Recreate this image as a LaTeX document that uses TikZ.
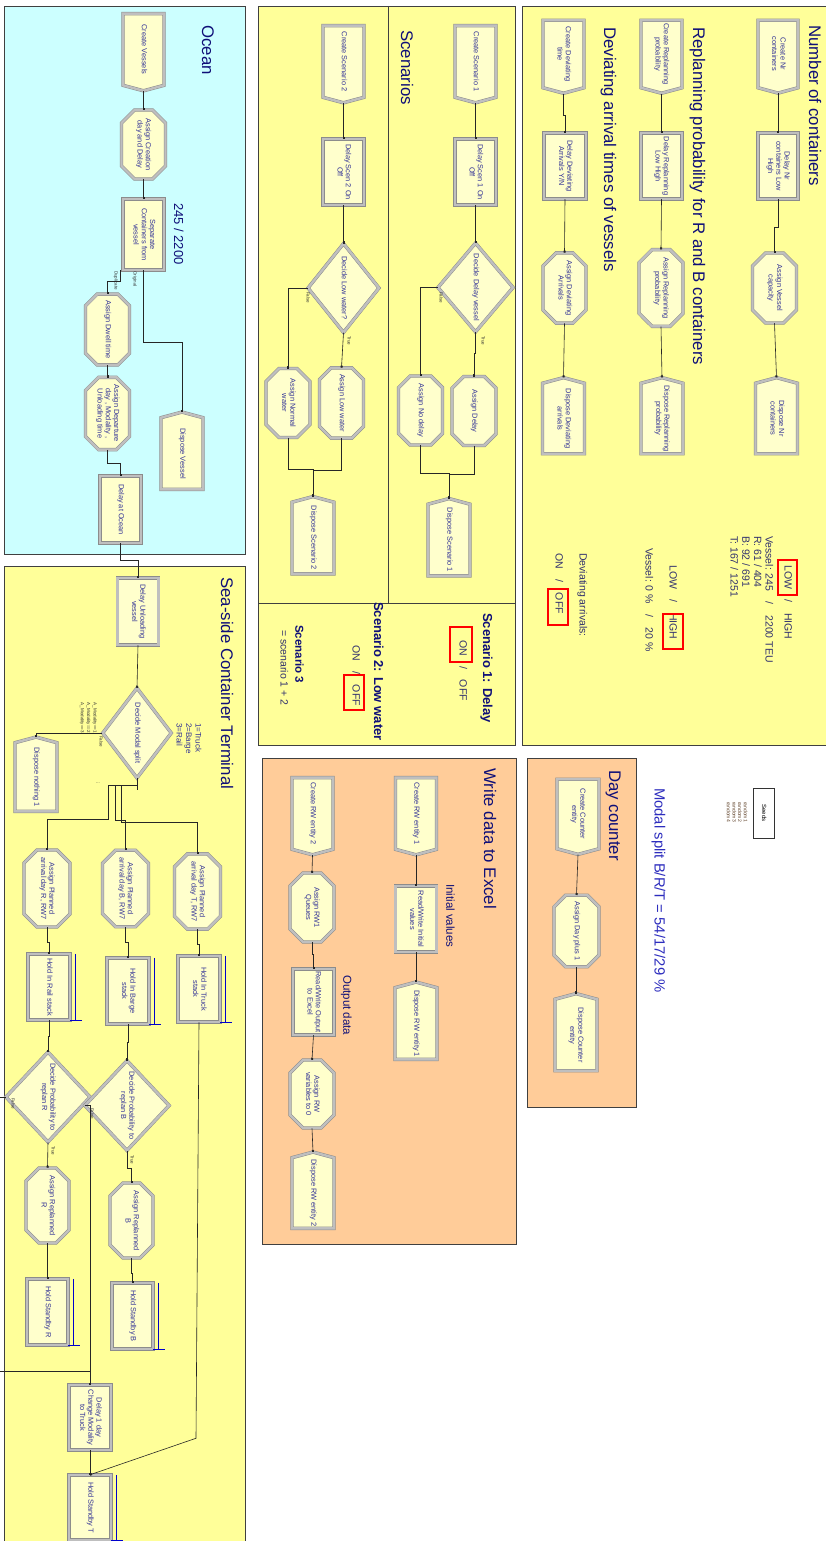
\documentclass[tikz,border=0pt]{standalone}
\usepackage{fontspec}
\setmainfont{Liberation Sans}
\usepackage{graphicx}
\usepackage{xcolor}
\usetikzlibrary{shapes.geometric,shapes.symbols,shapes.misc,arrows.meta}
\definecolor{oceanCyan}{RGB}{204,255,255}
\definecolor{panelYellow}{RGB}{255,255,153}
\definecolor{panelOrange}{RGB}{255,204,153}
\definecolor{moduleFill}{RGB}{255,255,204}
\definecolor{moduleText}{RGB}{50,50,150}
\definecolor{titleBlue}{RGB}{15,15,120}
\definecolor{noteBlue}{RGB}{50,50,110}
\definecolor{splitBlue}{RGB}{45,45,190}
\definecolor{seedBrown}{RGB}{95,65,40}
\newcommand{\modulefont}{\fontsize{7.4}{8.3}\selectfont}
\newcommand{\panelfont}{\fontsize{16.8}{19}\selectfont}
\newcommand{\notefont}{\fontsize{10.5}{11.7}\selectfont}
\newcommand{\scenfont}{\fontsize{13}{15}\selectfont\bfseries}
\newcommand{\exitfont}{\fontsize{4.5}{6.3}\selectfont}
\newcommand{\vlabel}[2][c]{\rotatebox{-90}{\begin{tabular}{@{}#1@{}}#2\end{tabular}}}

\begin{document}
\begin{tikzpicture}[x=1pt, y=-1pt,
	    module/.style={draw=gray!90, line width=0.5pt, double=gray!50, double distance=2.4pt, fill=moduleFill, text=moduleText, font=\modulefont, inner sep=1pt},
	    createmod/.style={module, signal, signal to=south, signal pointer angle=150, minimum width=41pt, minimum height=73pt},
	    disposemod/.style={module, signal, signal to=north, signal pointer angle=150, minimum width=42pt, minimum height=73pt},
	    assignmod/.style={module, chamfered rectangle, chamfered rectangle sep=6.5pt, minimum width=44pt, minimum height=69pt},
	    delaymod/.style={module, rectangle, minimum width=41pt, minimum height=66pt},
	    decidemod/.style={module, diamond, inner sep=0pt, minimum width=64pt, minimum height=89pt},
	    paneltitle/.style={text=titleBlue, font=\panelfont, inner sep=0pt, anchor=north},
	    infotext/.style={text=noteBlue, font=\notefont, inner sep=0pt, anchor=north},
	    exitlabel/.style={text=black!80, font=\exitfont, inner sep=0pt, anchor=north},
	    redmark/.style={draw=red, line width=2.2pt, inner sep=0pt},
	    queue/.style={draw=blue!80!black, line width=0.7pt},
	    joint/.style={draw=black!85, line width=0.6pt},
	    line/.style={draw=black!85, line width=0.6pt, -{Square[length=2pt,width=2pt]}}]

	\useasboundingbox (0,0) rectangle (825,1541);
	\fill [white] (0,0) rectangle (825,1541);
	\draw [fill=oceanCyan, draw=black!75, line width=0.8pt] (4,6) rectangle (245,554);
	\draw [fill=panelYellow, draw=black!75, line width=0.8pt] (4,566) rectangle (245,1560);
	\draw [fill=panelYellow, draw=black!75, line width=0.8pt] (258,6) rectangle (515,745);
	\draw [draw=black!75, line width=0.8pt] (388,6) -- (388,603) (258,603) -- (515,603);
	\draw [fill=panelYellow, draw=black!75, line width=0.8pt] (522,6) rectangle (830,745);
	\draw [fill=panelOrange, draw=black!75, line width=0.8pt] (262,758) rectangle (516,1244);
	\draw [fill=panelOrange, draw=black!75, line width=0.8pt] (527,758) rectangle (636,1107);

	\node [paneltitle] (tocean) at (206,25) {\vlabel{Ocean}};
	\node [paneltitle] (tsea) at (225,577) {\vlabel{Sea-side Container Terminal}};
	\node [paneltitle] (tscen) at (405,30) {\vlabel{Scenarios}};
	\node [paneltitle] (tnr) at (813,25) {\vlabel{Number of containers}};
	\node [paneltitle] (trepl) at (697,27) {\vlabel{Replanning probability for R and B containers}};
	\node [paneltitle] (tdev) at (608,27) {\vlabel{Deviating arrival times of vessels}};
	\node [paneltitle] (texcel) at (488,768) {\vlabel{Write data to Excel}};
	\node [paneltitle] (tday) at (613,770) {\vlabel{Day counter}};

	\node [createmod] (crves) at (143.5,49.5) {\vlabel{Create Vessels}};
	\node [assignmod] (asgcre) at (143.5,144.5) {\vlabel{Assign Creation\\day and Delay}};
	\node [delaymod, minimum height=71pt] (sep) at (143.5,234.5) {\vlabel{Separate\\Containers from\\vessel}};
	\node [assignmod] (asgdw) at (107.5,329.5) {\vlabel{Assign Dwell time}};
	\node [assignmod] (asgdep) at (107.5,413.5) {\vlabel{Assign Departure\\day , Modality ,\\Unloading time}};
	\node [delaymod, minimum height=67pt] (dlyoc) at (120.5,509.5) {\vlabel{Delay at Ocean}};
	\node [disposemod] (dspves) at (182,453.5) {\vlabel{Dispose Vessel}};
	\node [infotext, text=titleBlue, font=\fontsize{13}{15}\selectfont] (vesnum) at (177,203) {\vlabel{245 / 2200}};
	\node [exitlabel] (lbldup) at (116,271) {\vlabel{Duplicate}};
	\node [exitlabel] (lblorg) at (135,271) {\vlabel{Original}};

	\path [line] (crves.south) -- (asgcre.north);
	\path [line] (asgcre.south) -- (sep.north);
	\path [line] (sep.south) -- ++(0,72) -| (dspves.north);
	\path [line] ([xshift=-2pt]sep.south west) -- ++(0,11) -| (asgdw.north);
	\path [line] (asgdw.south) -- (asgdep.north);
	\path [line] (asgdep.south) -- ++(0,13) -| (dlyoc.north);

	\node [delaymod, minimum height=67pt] (dlyunl) at (138,611.5) {\vlabel{Delay Unloading\\vessel}};
	\node [decidemod, minimum width=63pt, minimum height=90pt] (modal) at (137,733) {\vlabel{Decide Modal split}};
	\node [infotext, text=moduleText, font=\fontsize{8}{9.5}\selectfont] (modkey) at (188,723) {\vlabel[l]{1=Truck\\2=Barge\\3=Rail}};
	\node [disposemod, minimum height=70pt] (dspn1) at (36,777) {\vlabel{Dispose nothing 1}};
	\node [exitlabel, anchor=south] (condlbl) at (88.5,733) {\vlabel[r]{A\_Modality==1\\A\_Modality==2\\A\_Modality==3}};
	\node [exitlabel] (modfalse) at (101,736) {\vlabel{False}};
	\node [exitlabel, anchor=center] (moredots) at (98,783) {...};
	\node [assignmod, minimum width=46pt, minimum height=71pt] (asgR) at (47,888.5) {\vlabel{Assign Planned\\arrival day R, RW7}};
	\node [assignmod, minimum width=46pt, minimum height=71pt] (asgB) at (125.5,888.5) {\vlabel{Assign Planned\\arrival day B, RW7}};
	\node [assignmod, minimum width=46pt, minimum height=69pt] (asgT) at (197.5,891.5) {\vlabel{Assign Planned\\arrival day T, RW7}};
	\node [delaymod, minimum width=42pt] (holdR) at (49,987) {\vlabel{Hold In Rail stack}};
	\node [delaymod, minimum width=42pt] (holdB) at (128,991) {\vlabel{Hold In Barge\\stack}};
	\node [delaymod, minimum width=42pt] (holdT) at (199,989) {\vlabel{Hold In Truck\\stack}};
	\node [decidemod, minimum width=62pt, minimum height=90pt] (decR) at (48,1097) {\vlabel{Decide Probability to\\replan R}};
	\node [decidemod, minimum width=62pt, minimum height=90pt] (decB) at (127,1105.5) {\vlabel{Decide Probability to\\replan B}};
	\node [exitlabel] (rfalse) at (13,1098) {\vlabel{False}};
	\node [exitlabel] (rtrue) at (53,1146) {\vlabel{True}};
	\node [exitlabel] (bfalse) at (92,1108) {\vlabel{False}};
	\node [exitlabel] (btrue) at (132,1155) {\vlabel{True}};
	\node [assignmod, minimum width=43pt, minimum height=67pt] (asgrR) at (47.5,1205.5) {\vlabel{Assign Replanned\\R}};
	\node [assignmod, minimum width=43pt, minimum height=67pt] (asgrB) at (131.5,1220.5) {\vlabel{Assign Replanned\\B}};
	\node [delaymod] (hsR) at (47.5,1312) {\vlabel{Hold Standby R}};
	\node [delaymod] (hsB) at (132.5,1316) {\vlabel{Hold Standby B}};
	\node [delaymod, minimum width=42pt, minimum height=65pt] (dl1) at (90,1417.5) {\vlabel{Delay 1 day\\Change Modality\\to Truck}};
	\node [delaymod, minimum width=42pt, minimum height=65pt] (hsT) at (90,1507.5) {\vlabel{Hold Standby T}};

	\coordinate (mbar) at (137,785);
	\coordinate (exR) at (108,785);
	\coordinate (exB) at (115,785);
	\coordinate (exT) at (121,785);
	\coordinate (rejoin) at (90,1371);
	\path [line] (dlyoc.south) -- ++(0,17) -| (dlyunl.north);
	\path [line] (dlyunl.south) -- (modal.north);
	\path [line] (modal.west) -| (dspn1.north);
	\path [joint] (modal.south) -- ++(0,12) (exR) -- (mbar);
	\path [line] (exR) -- ++(0,34) -| (asgR.north);
	\path [line] (exB) -- ++(0,35) -| (asgB.north);
	\path [line] (exT) -- ++(0,37) -| (asgT.north);
	\path [line] (asgR.south) -- ++(0,15) -| (holdR.north);
	\path [line] (asgB.south) -- ++(0,15) -| (holdB.north);
	\path [line] (asgT.south) -- ++(0,15) -| (holdT.north);
	\path [line] (holdR.south) -- ++(0,16) -| (decR.north);
	\path [line] (holdB.south) -- ++(0,18) -| (decB.north);
	\path [line] (decR.south) -- (asgrR.north);
	\path [line] (decB.south) -- ++(0,18) -| (asgrB.north);
	\path [line] (asgrR.south) -- ++(0,20) -| (hsR.north);
	\path [line] (asgrB.south) -- ++(0,15) -| (hsB.north);
	\path [line] (decB.west) -| (dl1.north);
	\path [joint] (decR.west) -- ++(-15.5,0) |- (rejoin);
	\path [line] (dl1.south) -- (hsT.north);
	\path [line] (holdT.south) -- ++(-3,416) -- (hsT.north);
	\draw [queue] ([xshift=5pt]holdR.north east) -- ([xshift=5pt]holdR.south east) (holdR.south east) -- ([xshift=12pt]holdR.south east);
	\draw [queue] ([xshift=5pt]holdB.north east) -- ([xshift=5pt]holdB.south east) (holdB.south east) -- ([xshift=12pt]holdB.south east);
	\draw [queue] ([xshift=5pt]holdT.north east) -- ([xshift=5pt]holdT.south east) (holdT.south east) -- ([xshift=12pt]holdT.south east);
	\draw [queue] ([xshift=5pt]hsR.north east) -- ([xshift=5pt]hsR.south east) (hsR.south east) -- ([xshift=12pt]hsR.south east);
	\draw [queue] ([xshift=5pt]hsB.north east) -- ([xshift=5pt]hsB.south east) (hsB.south east) -- ([xshift=12pt]hsB.south east);
	\draw [queue] ([xshift=5pt]hsT.north east) -- ([xshift=5pt]hsT.south east) (hsT.south east) -- ([xshift=12pt]hsT.south east);

	\node [createmod] (crs1) at (475.5,61.5) {\vlabel{Create Scenario 1}};
	\node [delaymod] (dls1) at (475.5,172) {\vlabel{Delay Scen 1 On\\Off}};
	\node [decidemod, minimum width=67pt] (decs1) at (475.5,287.5) {\vlabel{Decide Delay vessel}};
	\node [assignmod] (asgdel) at (474,411) {\vlabel{Assign Delay}};
	\node [assignmod] (asgnod) at (420.5,410.5) {\vlabel{Assign No delay}};
	\node [disposemod] (dsps1) at (449,540) {\vlabel{Dispose Scenario 1}};
	\node [exitlabel] (s1false) at (441,292) {\vlabel{False}};
	\node [exitlabel] (s1true) at (483,336) {\vlabel{True}};
	\node [createmod] (crs2) at (343.5,61.5) {\vlabel{Create Scenario 2}};
	\node [delaymod] (dls2) at (343.5,172) {\vlabel{Delay Scen 2 On\\Off}};
	\node [decidemod] (decs2) at (343.5,288) {\vlabel{Decide Low water?}};
	\node [assignmod] (asglw) at (341.5,403) {\vlabel{Assign Low water}};
	\node [assignmod] (asgnw) at (288,403) {\vlabel{Assign Normal\\water}};
	\node [disposemod] (dsps2) at (313,538) {\vlabel{Dispose Scenario 2}};
	\node [exitlabel] (s2false) at (308,292) {\vlabel{False}};
	\node [exitlabel] (s2true) at (349,336) {\vlabel{True}};

	\path [line] (crs1.south) -- (dls1.north);
	\path [line] (dls1.south) -- (decs1.north);
	\path [line] (decs1.south) -- ++(0,21) -| (asgdel.north);
	\path [line] (decs1.west) -| (asgnod.north);
	\path [line] (asgdel.south) -- ++(0,29) -| (dsps1.north);
	\path [line] (asgnod.south) -- ++(0,28) -| (dsps1.north);
	\path [line] (crs2.south) -- (dls2.north);
	\path [line] (dls2.south) -- (decs2.north);
	\path [line] (decs2.south) -- (asglw.north);
	\path [line] (decs2.west) -| (asgnw.north);
	\path [line] (asglw.south) -- ++(0,32) -| (dsps2.north);
	\path [line] (asgnw.south) -- ++(0,32) -| (dsps2.north);

	\node [infotext, text=titleBlue, font=\scenfont] (sc1) at (486,613) {\vlabel{Scenario 1: Delay}};
	\node [infotext] (sc1sw) at (462,640) {\vlabel{ON\quad/\quad OFF}};
	\node [redmark, minimum width=22pt, minimum height=35pt] (sc1on) at (461,644.5) {};
	\node [infotext, text=titleBlue, font=\scenfont] (sc2) at (377,602) {\vlabel{Scenario 2: Low water}};
	\node [infotext] (sc2sw) at (355,645) {\vlabel{ON\quad/\quad OFF}};
	\node [redmark, minimum width=20pt, minimum height=35pt] (sc2off) at (354,692.5) {};
	\node [infotext, text=titleBlue, font=\fontsize{11.5}{13}\selectfont\bfseries] (sc3) at (298,625) {\vlabel{Scenario 3}};
	\node [infotext] (sc3eq) at (283,630) {\vlabel{= scenario 1 + 2}};

	\node [createmod, minimum width=40pt, minimum height=70pt] (crnr) at (778,54) {\vlabel{Create Nr\\containers}};
	\node [delaymod, minimum width=40pt] (dlnr) at (778,166) {\vlabel{Delay Nr\\containers Low\\High}};
	\node [assignmod, minimum height=70pt] (asgcap) at (774.5,288) {\vlabel{Assign Vessel\\capacity}};
	\node [disposemod] (dspnr) at (776.5,418.5) {\vlabel{Dispose Nr\\containers}};
	\node [createmod, minimum height=70pt] (crrp) at (661.5,54) {\vlabel{Create Replanning\\probability}};
	\node [delaymod] (dlrp) at (661.5,166) {\vlabel{Delay Replanning\\Low High}};
	\node [assignmod, minimum height=70pt] (asgrp) at (661,288) {\vlabel{Assign Replanning\\probability}};
	\node [disposemod] (dsprp) at (662,418.5) {\vlabel{Dispose Replanning\\probability}};
	\node [createmod, minimum height=70pt] (crdv) at (563.5,54) {\vlabel{Create Deviating\\time}};
	\node [delaymod, minimum width=42pt] (dldv) at (565,166) {\vlabel{Delay Deviating\\Arrivals Y/N}};
	\node [assignmod, minimum width=43pt, minimum height=70pt] (asgdv) at (564.5,288) {\vlabel{Assign Deviating\\Arrivals}};
	\node [disposemod] (dspdv) at (563.5,418.5) {\vlabel{Dispose Deviating\\arrivals}};

	\path [line] (crnr.south) -- (dlnr.north);
	\path [line] (dlnr.south) -- ++(0,28) -| (asgcap.north);
	\path [line] (asgcap.south) -- (dspnr.north);
	\path [line] (crrp.south) -- (dlrp.north);
	\path [line] (dlrp.south) -- (asgrp.north);
	\path [line] (asgrp.south) -- (dsprp.north);
	\path [line] (crdv.south) -- ++(0,22) -| (dldv.north);
	\path [line] (dldv.south) -- (asgdv.north);
	\path [line] (asgdv.south) -- (dspdv.north);

	\node [infotext] (nrsw) at (787,565) {\vlabel{LOW\quad/\quad HIGH}};
	\node [redmark, minimum width=19pt, minimum height=35pt] (nrlow) at (787.5,577.5) {};
	\node [infotext] (nrvals) at (750.5,536) {\vlabel[l]{Vessel: 245\quad/\quad 2200 TEU\\R: 61 / 404\\B: 92 / 691\\T: 167 / 1251}};
	\node [infotext] (rpsw) at (672,565) {\vlabel{LOW\quad/\quad HIGH}};
	\node [redmark, minimum width=20pt, minimum height=35pt] (rphigh) at (673,631.5) {};
	\node [infotext] (rpvals) at (648,548) {\vlabel{Vessel: 0 \%\quad/\quad 20 \%}};
	\node [infotext] (dvhead) at (582,553) {\vlabel{Deviating arrivals:}};
	\node [infotext] (dvsw) at (558,553) {\vlabel{ON\quad/\quad OFF}};
	\node [redmark, minimum width=20pt, minimum height=36pt] (dvoff) at (558,607) {};

	\node [createmod] (crrw1) at (416,813.5) {\vlabel{Create RW entity 1}};
	\node [delaymod] (rwinit) at (416,919) {\vlabel{Read/Write Initial\\values}};
	\node [disposemod] (dsprw1) at (416,1023.5) {\vlabel{Dispose RW entity 1}};
	\node [createmod] (crrw2) at (312.5,813.5) {\vlabel{Create RW entity 2}};
	\node [assignmod] (asgq) at (312,907.5) {\vlabel{Assign RW1\\Queues}};
	\node [delaymod] (rwout) at (313.5,1002) {\vlabel{Read/Write Output\\to Excel}};
	\node [assignmod, minimum height=68pt] (asgzero) at (312,1094) {\vlabel{Assign RW\\variables to 0}};
	\node [disposemod, minimum height=72pt] (dsprw2) at (313,1193) {\vlabel{Dispose RW entity 2}};
	\node [infotext, text=titleBlue, font=\fontsize{11.5}{13}\selectfont] (initv) at (449,884) {\vlabel{Initial values}};
	\node [infotext, text=titleBlue, font=\fontsize{11.5}{13}\selectfont] (outd) at (346,975) {\vlabel{Output data}};

	\path [line] (crrw1.south) -- (rwinit.north);
	\path [line] (rwinit.south) -- (dsprw1.north);
	\path [line] (crrw2.south) -- (asgq.north);
	\path [line] (asgq.south) -- ++(0,12) -| (rwout.north);
	\path [line] (rwout.south) -- (asgzero.north);
	\path [line] (asgzero.south) -- (dsprw2.north);

	\node [createmod, minimum width=42pt, minimum height=72pt] (crday) at (578,814) {\vlabel{Create Counter\\entity}};
	\node [assignmod, minimum width=45pt, minimum height=68pt] (asgday) at (576.5,931) {\vlabel{Assign Day plus 1}};
	\node [disposemod, minimum height=74pt] (dspday) at (576,1035) {\vlabel{Dispose Counter\\entity}};
	\path [line] (crday.south) -- (asgday.north);
	\path [line] (asgday.south) -- ++(0,15) -| (dspday.north);

	\node [infotext, text=splitBlue, font=\fontsize{14.8}{17}\selectfont] (split) at (658,788) {\vlabel{Modal split B/R/T = 54/17/29 \%}};
	\node [draw=black!80, line width=0.6pt, fill=white, minimum width=21pt, minimum height=50pt, inner sep=0pt, font=\fontsize{6}{7}\selectfont] (seeds) at (763.5,813) {\vlabel{Seeds}};
	\node [anchor=north, inner sep=0pt, text=seedBrown, font=\fontsize{5}{5.7}\selectfont] (seedlist) at (736.5,802) {\vlabel[l]{random1\\random2\\random3\\random4}};
\end{tikzpicture}
\end{document}
